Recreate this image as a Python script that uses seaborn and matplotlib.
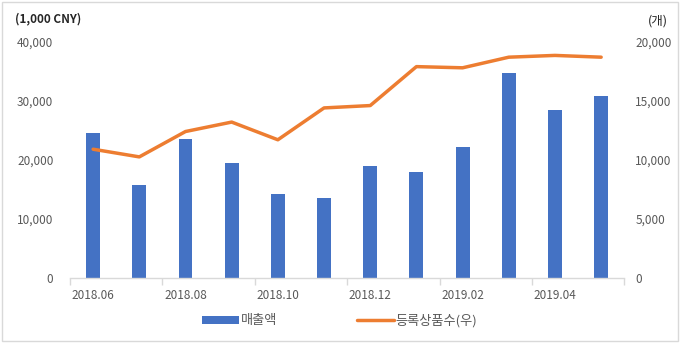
import matplotlib
matplotlib.use("Agg")
import matplotlib.pyplot as plt
from matplotlib.patches import Rectangle, Patch
from matplotlib.lines import Line2D
import seaborn as sns
import pandas as pd
import numpy as np

months = ["2018.06", "2018.07", "2018.08", "2018.09", "2018.10", "2018.11",
          "2018.12", "2019.01", "2019.02", "2019.03", "2019.04", "2019.05"]
sales = [24600, 15800, 23600, 19500, 14200, 13500, 18900, 17900, 22200, 34700, 28500, 30800]
products = [10900, 10250, 12400, 13200, 11700, 14400, 14600, 17900, 17800, 18700, 18850, 18700]
left_ticks = [0, 10000, 20000, 30000, 40000]
right_ticks = [0, 5000, 10000, 15000, 20000]
sales_label = "매출액"
products_label = "등록상품수(우)"
left_unit = "(1,000 CNY)"
right_unit = "(개)"

BLUE = "#4472C4"
ORANGE = "#ED7D31"
GREY = "#595959"
LINEC = "#D9D9D9"

sns.set_theme(style="white")
plt.rcParams["font.family"] = ["Noto Sans CJK KR", "DejaVu Sans"]

df = pd.DataFrame({"month": months, "sales": sales, "products": products})

fig = plt.figure(figsize=(6.8, 3.43), dpi=100)
ax = fig.add_axes([0.103, 0.19, 0.815, 0.688])

sns.barplot(data=df, x="month", y="sales", color=BLUE, width=0.3, ax=ax,
            saturation=1, edgecolor="none")
ax2 = ax.twinx()
sns.pointplot(data=df, x="month", y="products", color=ORANGE, ax=ax2,
              markers="", linewidth=2.5, errorbar=None)

n = len(months)
for a in (ax, ax2):
    a.set_xlim(-0.5, n - 0.5)
    for s in a.spines.values():
        s.set_visible(False)
    a.set_xlabel("")
    a.set_ylabel("")

ax.set_ylim(0, 40000)
ax2.set_ylim(0, 20000)
ax.set_yticks(left_ticks)
ax.set_yticklabels([f"{v:,}" for v in left_ticks], color=GREY, fontsize=8.5)
ax2.set_yticks(right_ticks)
ax2.set_yticklabels([f"{v:,}" for v in right_ticks], color=GREY, fontsize=8.5)
ax.tick_params(axis="y", length=0, pad=12)
ax2.tick_params(axis="y", length=0, pad=8)

ax.spines["bottom"].set_visible(True)
ax.spines["bottom"].set_color(LINEC)
ax.spines["bottom"].set_linewidth(1)
major = list(range(0, n, 2))
ax.set_xticks(major)
ax.set_xticklabels([months[i] for i in major], color=GREY, fontsize=8.5)
ax.set_xticks([i - 0.5 for i in range(0, n + 1, 2)], minor=True)
ax.tick_params(axis="x", which="major", length=0, pad=8)
ax.tick_params(axis="x", which="minor", length=5, color=LINEC, width=1, direction="out", bottom=True)
ax2.tick_params(axis="x", length=0)
ax2.grid(False)
ax.grid(False)

fig.text(0.022, 0.945, left_unit, fontsize=8.5, color="#262626", fontweight="bold", va="center", ha="left")
fig.text(0.982, 0.94, right_unit, fontsize=9, color="#262626", va="center", ha="right")

handles = [Patch(facecolor=BLUE, edgecolor="none"),
           Line2D([0], [0], color=ORANGE, lw=2.5)]
fig.legend(handles, [sales_label, products_label], loc="center",
           bbox_to_anchor=(0.5, 0.065), ncol=2, frameon=False, fontsize=9.5,
           handlelength=2.8, handleheight=0.6, columnspacing=6, labelcolor=GREY,
           handletextpad=0.15)

fig.patches.append(Rectangle((0.003, 0.005), 0.994, 0.99, transform=fig.transFigure,
                             fill=False, edgecolor=LINEC, linewidth=1))

fig.savefig("out.png", dpi=100)
